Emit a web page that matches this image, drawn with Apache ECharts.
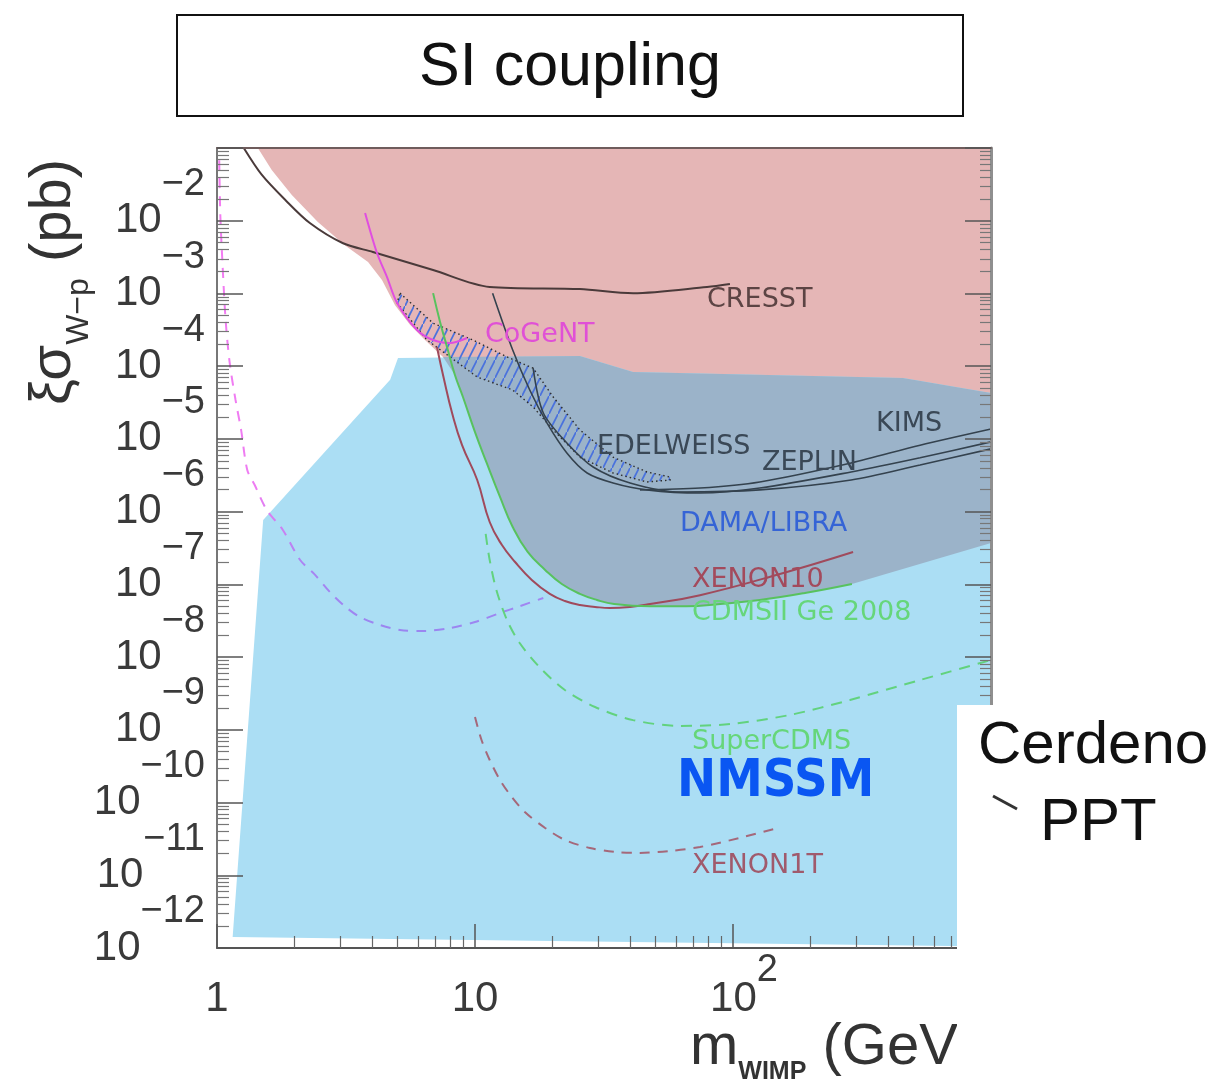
<!DOCTYPE html>
<html>
<head>
<meta charset="utf-8">
<script src="https://cdn.jsdelivr.net/npm/echarts@6/dist/echarts.min.js"></script>
<style>
  html, body { margin: 0; padding: 0; background: #fff; }
  #chart { width: 1220px; height: 1086px; }
</style>
</head>
<body>
<div id="chart"></div>
<script>
// ---- axis ticks -------------------------------------------------------
const massTicks = [1, 10, 100, 1000];
const massLabels = [1, 10, 100];
const sigmaTicks = [1e-12, 1e-11, 1e-10, 1e-9, 1e-8, 1e-7, 1e-6, 1e-5, 1e-4, 1e-3, 1e-2, 1e-1];
// decade labels, split over two overlaid axes so neighbouring labels never collide
const sigmaLabelsEven = [1e-12, 1e-10, 1e-8, 1e-6, 1e-4, 1e-2];
const sigmaLabelsOdd = [1e-11, 1e-9, 1e-7, 1e-5, 1e-3];

// ---- regions: [m_WIMP (GeV), sigma (pb)] ------------------------------
// lower/left edge of the excluded region (upper edge is the frame top)
const limitEdge = [
  [1.44, 1e-1], [1.63, 5.0e-2], [1.95, 2.26e-2], [2.46, 9.6e-3], [3.13, 4.6e-3],
  [3.85, 2.71e-3], [4.36, 1.53e-3], [4.90, 6.9e-4], [5.60, 3.7e-4], [6.40, 2.29e-4],
  [7.52, 1.34e-4], [8.36, 7.57e-5], [8.98, 3.77e-5], [10.0, 1.24e-5], [11.1, 4.67e-6],
  [12.5, 1.59e-6], [14.0, 6.15e-7], [16.0, 2.79e-7], [18.7, 1.58e-7], [21.7, 1.01e-7],
  [25.5, 7.4e-8], [29.7, 6.1e-8], [34.6, 5.37e-8], [47.7, 5.0e-8], [65.7, 5.0e-8],
  [89.1, 5.37e-8], [127, 6.1e-8], [190, 7.6e-8], [289, 1.01e-7], [1000, 3.7e-7]
];
const excludedCorner = [[1000, 1e-1]];

// NMSSM parameter region
const nmssmRegion = [
  [1.15, 1.42e-12], [1.51, 7.7e-7], [4.69, 6.5e-5], [5.03, 1.30e-4], [25.5, 1.38e-4],
  [41.0, 8.3e-5], [456, 6.9e-5], [1000, 4.28e-5], [1000, 1.05e-12]
];
// upper edge of the NMSSM region inside the excluded area
const overlapTop = [[7.52, 1.34e-4], [25.5, 1.38e-4], [41.0, 8.3e-5], [456, 6.9e-5], [1000, 4.28e-5]];

// DAMA/LIBRA band (upper edge, then lower edge back)
const damaBand = [
  [5.12, 1.01e-3], [6.88, 3.9e-4], [9.82, 2.29e-4], [13.3, 1.34e-4], [16.8, 9.4e-5],
  [20.1, 3.77e-5], [25.5, 1.33e-5], [34.3, 5.6e-6], [46.4, 3.51e-6], [57.0, 2.99e-6],
  [57.0, 2.72e-6], [46.4, 2.56e-6], [34.3, 3.40e-6], [25.5, 5.6e-6], [20.1, 1.33e-5],
  [16.8, 2.75e-5], [14.0, 4.7e-5], [10.2, 7.1e-5], [8.00, 1.34e-4], [6.51, 2.29e-4],
  [4.99, 7.4e-4]
];

// ---- limit curves -----------------------------------------------------
const cresst = [
  [1.27, 1e-1], [1.49, 4.3e-2], [1.84, 1.93e-2], [2.29, 9.3e-3], [3.08, 4.9e-3],
  [4.02, 3.72e-3], [6.88, 2.10e-3], [11.4, 1.23e-3], [25.5, 1.15e-3], [41.0, 1.01e-3],
  [79.3, 1.23e-3], [97.3, 1.35e-3]
];
const cogent = [
  [3.75, 1.28e-2], [4.17, 3.6e-3], [4.56, 1.68e-3], [4.99, 7.4e-4], [5.96, 3.15e-4],
  [6.88, 2.29e-4], [8.00, 2.08e-4], [9.31, 2.44e-4]
];
const zeplin = [
  [11.7, 1.01e-3], [14.0, 1.67e-4], [16.3, 4.7e-5], [19.0, 1.66e-5], [22.7, 6.4e-6],
  [27.2, 3.40e-6], [34.3, 2.48e-6], [46.4, 1.99e-6], [74.5, 1.80e-6], [127, 2.11e-6],
  [287, 3.51e-6], [531, 5.5e-6], [1000, 9.1e-6]
];
const edelweiss = [
  [16.8, 9.4e-5], [18.4, 2.27e-5], [22.7, 8.8e-6], [28.7, 4.11e-6], [39.9, 2.48e-6],
  [62.3, 1.86e-6], [127, 1.99e-6], [287, 2.72e-6], [531, 4.38e-6], [1000, 7.3e-6]
];
const kims = [
  [43.6, 1.99e-6], [74.5, 2.11e-6], [127, 2.56e-6], [287, 4.67e-6], [531, 8.2e-6], [1000, 1.37e-5]
];
const xenon10 = [
  [7.12, 1.84e-4], [7.59, 6.5e-5], [8.15, 2.27e-5], [8.91, 8.2e-6], [10.2, 2.72e-6],
  [11.4, 7.2e-7], [12.7, 3.5e-7], [14.3, 2.03e-7], [16.6, 1.15e-7], [19.5, 7.4e-8],
  [22.3, 5.9e-8], [25.5, 5.2e-8], [29.2, 4.9e-8], [33.3, 4.73e-8], [39.9, 4.9e-8],
  [47.7, 5.37e-8], [74.5, 7.1e-8], [152, 1.39e-7], [292, 2.79e-7]
];
const cdmsGe2008 = [
  [6.88, 1.01e-3], [7.32, 4.06e-4], [7.79, 1.84e-4], [8.36, 7.57e-5], [8.98, 3.77e-5],
  [10.0, 1.24e-5], [11.1, 4.67e-6], [12.5, 1.59e-6], [14.0, 6.15e-7], [16.0, 2.79e-7],
  [18.7, 1.58e-7], [21.7, 1.01e-7], [25.5, 7.4e-8], [29.7, 6.1e-8], [34.6, 5.37e-8],
  [47.7, 5.0e-8], [65.7, 5.0e-8], [89.1, 5.37e-8], [127, 6.1e-8], [190, 7.6e-8], [289, 1.01e-7]
];
// projected sensitivities (dashed)
const lightWimpProjection = [
  [1.02, 6.8e-2], [1.03, 1.2e-2], [1.05, 2.62e-3], [1.08, 4.3e-4], [1.12, 1.11e-4],
  [1.18, 3.43e-5], [1.24, 1.33e-5], [1.31, 3.74e-6], [1.40, 2.32e-6], [1.56, 1.05e-6],
  [1.80, 5.6e-7], [2.10, 2.16e-7], [2.40, 1.35e-7], [2.74, 7.85e-8], [3.13, 5.0e-8],
  [3.58, 3.56e-8], [4.28, 2.76e-8], [5.12, 2.36e-8], [6.40, 2.29e-8], [8.00, 2.51e-8],
  [10.0, 3.03e-8], [12.5, 4.04e-8], [14.9, 5.0e-8], [18.4, 6.5e-8]
];
const superCdms = [
  [11.0, 4.93e-7], [11.4, 2.16e-7], [12.1, 8.4e-8], [13.3, 3.24e-8], [14.9, 1.56e-8],
  [17.9, 7.1e-9], [22.3, 3.53e-9], [29.2, 2.06e-9], [41.0, 1.36e-9], [62.3, 1.13e-9],
  [97.3, 1.20e-9], [166, 1.60e-9], [284, 2.57e-9], [531, 4.84e-9], [1000, 9.1e-9]
];
const xenon1t = [
  [10.0, 1.50e-9], [10.6, 7.24e-10], [11.4, 3.85e-10], [12.5, 2.04e-10], [13.7, 1.27e-10],
  [15.6, 7.41e-11], [18.7, 4.47e-11], [22.3, 3.06e-11], [27.9, 2.37e-11], [34.9, 2.09e-11],
  [43.6, 2.03e-11], [57.0, 2.16e-11], [74.5, 2.45e-11], [106, 3.26e-11], [149, 4.47e-11]
];

// ---- helpers ----------------------------------------------------------
function minorValues(firstExp, lastExp) {
  const out = [];
  for (let e = firstExp; e <= lastExp; e++) {
    for (let k = 2; k <= 9; k++) out.push(k * Math.pow(10, e));
  }
  return out;
}
const massMinor = minorValues(0, 2);
const sigmaMinor = minorValues(-12, -2);

function hatchImage() {
  const w = 9, h = 18;
  const c = document.createElement('canvas');
  c.width = w; c.height = h;
  const g = c.getContext('2d');
  g.strokeStyle = '#4a72dd';
  g.lineWidth = 1.7;
  g.beginPath();
  g.moveTo(-w * 0.5, h * 1.5);
  g.lineTo(w * 1.5, -h * 0.5);
  g.stroke();
  return c;
}

function areaSeries(name, points, style) {
  return {
    type: 'custom',
    name: name,
    coordinateSystem: 'cartesian2d',
    xAxisIndex: 0,
    yAxisIndex: 0,
    silent: true,
    clip: true,
    data: points,
    renderItem: function (params, api) {
      if (params.dataIndexInside !== 0) return null;
      const pts = [];
      for (let i = 0; i < params.dataInsideLength; i++) {
        pts.push(api.coord([api.value(0, i), api.value(1, i)]));
      }
      return { type: 'polygon', shape: { points: pts }, style: style };
    }
  };
}

function curveSeries(name, points, color, width, dash, smooth) {
  return {
    type: 'line',
    name: name,
    xAxisIndex: 0,
    yAxisIndex: 0,
    data: points,
    symbol: 'none',
    smooth: smooth == null ? 0.3 : smooth,
    silent: true,
    clip: true,
    lineStyle: { color: color, width: width, type: dash || 'solid' }
  };
}

const tickFont = 'Liberation Sans, Arial, sans-serif';
const tickColor = '#3a3a3a';

function sigmaLabel(v) {
  const n = Math.round(Math.log10(v));
  return '{b|10}{e|\u2212' + (-n) + '}';
}
function massLabel(v) {
  const n = Math.round(Math.log10(v));
  if (n === 0) return '{b|1}';
  if (n === 1) return '{b|10}';
  return '{c|10}{e|' + n + '}';
}
function sigmaLabelStyle(values) {
  return {
    show: true, customValues: values, formatter: sigmaLabel, margin: 12,
    showMinLabel: true, showMaxLabel: true, hideOverlap: false,
    color: tickColor, fontFamily: tickFont,
    rich: {
      b: { fontSize: 42, padding: [34, 0, 34, 0], verticalAlign: 'middle', color: tickColor, fontFamily: tickFont },
      e: { fontSize: 38, verticalAlign: 'top', color: tickColor, fontFamily: tickFont }
    }
  };
}

const xBase = { type: 'log', logBase: 10, min: 1, max: 1000, gridIndex: 0, z: 10, splitLine: { show: false } };
const yBase = { type: 'log', logBase: 10, min: 1e-12, max: 1e-1, gridIndex: 0, z: 10, splitLine: { show: false } };

const chart = echarts.init(document.getElementById('chart'), null, { renderer: 'canvas' });

const option = {
  animation: false,
  backgroundColor: '#ffffff',
  grid: { left: 217, right: 229, top: 148, bottom: 138, containLabel: false },
  xAxis: [
    Object.assign({}, xBase, {
      position: 'bottom',
      axisLine: { show: true, onZero: false, lineStyle: { color: '#555', width: 2 } },
      axisTick: { show: true, inside: true, length: 24, customValues: massTicks, lineStyle: { color: '#555', width: 1.5 } },
      axisLabel: {
        show: true, customValues: massLabels, formatter: massLabel, margin: 0,
        showMinLabel: true, showMaxLabel: true, hideOverlap: false,
        color: tickColor, fontFamily: tickFont,
        rich: {
          b: { fontSize: 42, padding: [30, 0, 0, 0], verticalAlign: 'bottom', color: tickColor, fontFamily: tickFont },
          c: { fontSize: 42, padding: [30, 0, 0, 22], verticalAlign: 'bottom', color: tickColor, fontFamily: tickFont },
          e: { fontSize: 38, padding: [4, 0, 0, 0], verticalAlign: 'top', color: tickColor, fontFamily: tickFont }
        }
      }
    }),
    Object.assign({}, xBase, {
      position: 'bottom',
      axisLine: { show: false },
      axisTick: { show: true, inside: true, length: 12, customValues: massMinor, lineStyle: { color: '#666', width: 1.2 } },
      axisLabel: { show: false }
    }),
    Object.assign({}, xBase, {
      position: 'top',
      axisLine: { show: true, onZero: false, lineStyle: { color: '#6f5c5c', width: 2 } },
      axisTick: { show: false },
      axisLabel: { show: false }
    })
  ],
  yAxis: [
    Object.assign({}, yBase, {
      position: 'left',
      axisLine: { show: true, onZero: false, lineStyle: { color: '#777', width: 2 } },
      axisTick: { show: true, inside: true, length: 26, customValues: sigmaTicks, lineStyle: { color: '#555', width: 1.5 } },
      axisLabel: sigmaLabelStyle(sigmaLabelsEven)
    }),
    Object.assign({}, yBase, {
      position: 'left',
      axisLine: { show: false },
      axisTick: { show: true, inside: true, length: 12, customValues: sigmaMinor, lineStyle: { color: '#777', width: 1.2 } },
      axisLabel: sigmaLabelStyle(sigmaLabelsOdd)
    }),
    Object.assign({}, yBase, {
      position: 'right',
      axisLine: { show: true, onZero: false, lineStyle: { color: '#8f8f8f', width: 3 } },
      axisTick: { show: true, inside: true, length: 26, customValues: sigmaTicks, lineStyle: { color: '#555', width: 1.5 } },
      axisLabel: { show: false }
    }),
    Object.assign({}, yBase, {
      position: 'right',
      axisLine: { show: false },
      axisTick: { show: true, inside: true, length: 11, customValues: sigmaMinor, lineStyle: { color: '#777', width: 1.2 } },
      axisLabel: { show: false }
    })
  ],
  series: [
    areaSeries('excluded', limitEdge.concat(excludedCorner), { fill: '#e5b6b6' }),
    areaSeries('NMSSM', nmssmRegion, { fill: '#abdef4' }),
    areaSeries('NMSSM excluded', overlapTop.concat(limitEdge.slice(11).reverse()), { fill: '#9bb3c9' }),
    areaSeries('DAMA/LIBRA', damaBand, {
      fill: { image: hatchImage(), repeat: 'repeat' },
      stroke: '#2e2e2e', lineWidth: 1.4, lineDash: [1.5, 3]
    }),
    curveSeries('light WIMP projection', lightWimpProjection,
      new echarts.graphic.LinearGradient(0, 0, 0, 1, [
        { offset: 0, color: '#f47cf2' },
        { offset: 0.7, color: '#ee7cf2' },
        { offset: 0.86, color: '#a884f2' },
        { offset: 1, color: '#9a86f0' }
      ]), 2, [10, 8]),
    curveSeries('SuperCDMS', superCdms, '#62d27e', 2, [11, 8]),
    curveSeries('XENON1T', xenon1t, '#a5687a', 2, [10, 8]),
    curveSeries('CRESST', cresst, '#4a3a3a', 2),
    curveSeries('CoGeNT', cogent, '#e04ee0', 2),
    curveSeries('XENON10', xenon10, '#a04a5c', 2, null, 0.45),
    curveSeries('CDMSII Ge 2008', cdmsGe2008, '#58c25e', 2, null, 0.45),
    curveSeries('ZEPLIN', zeplin, '#34424e', 1.6),
    curveSeries('EDELWEISS', edelweiss, '#34424e', 1.6),
    curveSeries('KIMS', kims, '#34424e', 1.6)
  ],
  graphic: [
    // heading box
    { type: 'rect', z: 20, shape: { x: 177, y: 15, width: 786, height: 101 },
      style: { fill: '#fff', stroke: '#111', lineWidth: 2 } },
    { type: 'text', z: 21, x: 570, y: 68,
      style: { text: 'SI coupling', font: '61px "Liberation Sans", Arial, sans-serif', fill: '#111', align: 'center', verticalAlign: 'middle' } },
    // curve labels
    { type: 'text', z: 15, x: 707, y: 300, style: { text: 'CRESST', font: '27px "DejaVu Sans"', fill: '#5c4444', align: 'left', verticalAlign: 'middle' } },
    { type: 'text', z: 15, x: 485, y: 335, style: { text: 'CoGeNT', font: '27px "DejaVu Sans"', fill: '#e050d6', align: 'left', verticalAlign: 'middle' } },
    { type: 'text', z: 15, x: 597, y: 447, style: { text: 'EDELWEISS', font: '27px "DejaVu Sans"', fill: '#3a4856', align: 'left', verticalAlign: 'middle' } },
    { type: 'text', z: 15, x: 762, y: 463, style: { text: 'ZEPLIN', font: '27px "DejaVu Sans"', fill: '#3a4856', align: 'left', verticalAlign: 'middle' } },
    { type: 'text', z: 15, x: 876, y: 424, style: { text: 'KIMS', font: '27px "DejaVu Sans"', fill: '#3a4856', align: 'left', verticalAlign: 'middle' } },
    { type: 'text', z: 15, x: 680, y: 524, style: { text: 'DAMA/LIBRA', font: '27px "DejaVu Sans"', fill: '#3564d6', align: 'left', verticalAlign: 'middle' } },
    { type: 'text', z: 15, x: 692, y: 580, style: { text: 'XENON10', font: '27px "DejaVu Sans"', fill: '#a34a5c', align: 'left', verticalAlign: 'middle' } },
    { type: 'text', z: 15, x: 692, y: 613, style: { text: 'CDMSII Ge 2008', font: '27px "DejaVu Sans"', fill: '#66d67a', align: 'left', verticalAlign: 'middle' } },
    { type: 'text', z: 15, x: 692, y: 742, style: { text: 'SuperCDMS', font: '27px "DejaVu Sans"', fill: '#66d67a', align: 'left', verticalAlign: 'middle' } },
    { type: 'text', z: 15, x: 677, y: 782, style: { text: 'NMSSM', font: 'bold 52px "DejaVu Sans Condensed", "DejaVu Sans"', fill: '#0a56f2', align: 'left', verticalAlign: 'middle' } },
    { type: 'text', z: 15, x: 692, y: 866, style: { text: 'XENON1T', font: '27px "DejaVu Sans"', fill: '#a05a6c', align: 'left', verticalAlign: 'middle' } },
    // axis titles
    { type: 'text', z: 15, x: 60, y: 282, rotation: Math.PI / 2,
      style: {
        text: '{g|\u03be\u03c3}{s|W\u2212p}{g| (pb)}', align: 'center', verticalAlign: 'middle', fill: '#333',
        rich: {
          g: { fontSize: 58, padding: [0, 0, 12, 0], verticalAlign: 'bottom', fontFamily: tickFont, fill: '#333' },
          s: { fontSize: 32, verticalAlign: 'bottom', fontFamily: tickFont, fill: '#333' }
        }
      } },
    { type: 'text', z: 15, x: 690, y: 1052,
      style: {
        text: '{m|m}{s|WIMP}{m| (GeV)}', align: 'left', verticalAlign: 'middle', fill: '#333',
        rich: {
          m: { fontSize: 58, padding: [0, 0, 8, 0], verticalAlign: 'bottom', fontFamily: tickFont, fill: '#333' },
          s: { fontSize: 25, fontWeight: 'bold', verticalAlign: 'bottom', fontFamily: tickFont, fill: '#333' }
        }
      } },
    // side note panel
    { type: 'rect', z: 30, shape: { x: 957, y: 705, width: 263, height: 381 }, style: { fill: '#fff' } },
    { type: 'text', z: 31, x: 978, y: 746, style: { text: 'Cerdeno', font: '60px "Liberation Sans", Arial, sans-serif', fill: '#111', align: 'left', verticalAlign: 'middle' } },
    { type: 'line', z: 31, shape: { x1: 993, y1: 796, x2: 1017, y2: 809 }, style: { stroke: '#333', lineWidth: 3 } },
    { type: 'text', z: 31, x: 1040, y: 823, style: { text: 'PPT', font: '60px "Liberation Sans", Arial, sans-serif', fill: '#111', align: 'left', verticalAlign: 'middle' } }
  ]
};

chart.setOption(option);
</script>
</body>
</html>
